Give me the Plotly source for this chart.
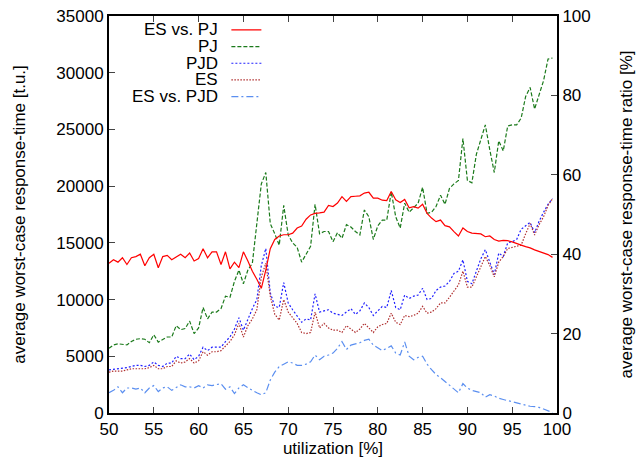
import numpy as np
import plotly.graph_objects as go

# utilization grid, 0.5 % steps
util = np.arange(50, 100, 0.5)

# average worst-case response-time [t.u.] (left axis)
pj = [5700, 6000, 6100, 6050, 6000, 6300, 6500, 6550, 6500, 6200,
      6900, 6250, 6450, 6700, 6700, 7700, 7350, 7450, 8100, 7000,
      7500, 9300, 8300, 8900, 8900, 9200, 10300, 10200, 11600, 12600,
      11400, 12600, 13200, 16500, 20200, 21200, 16700, 15800, 14800, 18300,
      15700, 15000, 14600, 13300, 14000, 14700, 18400, 15800, 16000, 16000,
      15100, 15900, 15400, 16600, 16400, 16000, 15700, 17900, 17300, 15300,
      16500, 17000, 17000, 19500, 17300, 16300, 18500, 17700, 18100, 18500,
      19900, 17600, 17700, 18200, 19200, 18400, 19800, 20200, 20500, 24200,
      20500, 20300, 22800, 24100, 25400, 23200, 21200, 24000, 23100, 25300,
      25400, 25400, 26000, 27900, 28700, 26800, 28000, 29300, 31200, 31300]

pjd = [3800, 3850, 3900, 3900, 4000, 4100, 4200, 4200, 4100, 4200,
       4500, 4200, 4100, 4400, 4400, 5000, 4800, 4800, 5200, 4700,
       5000, 5800, 5500, 5800, 5800, 5800, 6300, 6700, 7400, 8400,
       7300, 8300, 9200, 10000, 13000, 14500, 10600, 9400, 9300, 11500,
       9700, 9100, 8500, 8000, 8300, 8200, 10500, 8900, 9000, 9100,
       8800, 8700, 8600, 8900, 9200, 8700, 9000, 9700, 9300, 8600,
       9000, 9400, 9300, 10800, 9300, 9100, 10400, 10100, 10300, 10400,
       11000, 10000, 10100, 10800, 11100, 11200, 11600, 12300, 12500, 13500,
       11600, 11400, 12500, 13600, 14400, 13300, 12200, 14100, 13800, 15000,
       15100, 15300, 16200, 16500, 16800, 15900, 16900, 17700, 18400, 18900]

es = [3600, 3700, 3700, 3700, 3800, 3900, 3900, 3900, 3900, 4000,
      4200, 3900, 3900, 4100, 4100, 4600, 4400, 4500, 4800, 4400,
      4600, 5400, 5100, 5400, 5400, 5500, 5900, 6300, 6900, 7900,
      6700, 7700, 8300, 9100, 12000, 13200, 10300, 8700, 8200, 10000,
      8900, 8400, 7900, 7100, 7000, 7100, 8900, 7500, 7900, 7500,
      7300, 7300, 7100, 7700, 7400, 7100, 7400, 7900, 7500, 7100,
      7600, 7800, 7900, 8800, 8000, 7800, 8600, 8500, 8600, 8800,
      9400, 8800, 8900, 9200, 9700, 9700, 10200, 10800, 11300, 12500,
      11100, 11100, 12000, 13000, 13800, 13000, 12000, 13300, 13800, 14500,
      14600, 14700, 14800, 15800, 16700, 15700, 16600, 17300, 18300, 18900]

# average worst-case response-time ratio [%] (right axis)
es_vs_pj = [37.7, 38.6, 38.0, 39.1, 37.4, 39.1, 39.4, 40.0, 37.1, 39.1,
            40.0, 36.6, 39.4, 39.7, 38.6, 39.4, 40.0, 39.1, 40.3, 38.3,
            38.9, 41.4, 39.1, 40.6, 40.6, 37.4, 40.6, 36.3, 38.0, 36.6,
            40.6, 38.3, 35.7, 33.7, 31.4, 36.0, 41.4, 43.7, 44.6, 44.9,
            44.9, 45.3, 46.6, 47.1, 48.8, 49.9, 50.3, 50.4, 50.6, 52.3,
            52.0, 52.9, 54.5, 53.3, 54.5, 54.6, 54.7, 55.4, 55.6, 54.1,
            54.1, 53.6, 53.5, 55.8, 53.7, 53.0, 53.8, 51.7, 52.0, 51.6,
            52.6, 50.3, 49.1, 48.2, 48.6, 47.2, 46.9, 45.7, 44.6, 46.6,
            45.7, 45.3, 45.2, 45.1, 44.4, 44.6, 43.7, 43.3, 43.5, 43.4,
            43.1, 42.6, 42.3, 41.9, 41.6, 41.1, 40.7, 40.3, 39.9, 39.2]

es_vs_pjd = [5.1, 5.7, 6.6, 5.1, 6.3, 6.3, 6.0, 6.3, 5.1, 6.3,
             6.9, 5.4, 6.3, 6.6, 5.7, 6.3, 7.1, 6.6, 6.6, 6.3,
             6.9, 6.3, 7.1, 6.9, 7.1, 7.4, 6.0, 6.6, 4.9, 6.3,
             7.1, 6.3, 5.7, 5.1, 4.6, 5.1, 8.3, 10.3, 11.7, 12.3,
             12.9, 12.6, 12.0, 12.0, 12.3, 12.9, 14.6, 13.4, 14.3, 14.6,
             15.1, 16.3, 18.0, 16.0, 17.1, 17.4, 17.7, 18.3, 18.6, 17.1,
             16.3, 15.7, 16.3, 16.9, 15.1, 14.6, 17.9, 14.3, 13.4, 14.0,
             14.3, 12.3, 10.9, 9.7, 8.9, 8.0, 7.1, 6.0, 5.1, 7.4,
             6.3, 5.7, 5.4, 5.1, 4.0, 4.6, 4.3, 3.7, 3.4, 3.1,
             2.9, 2.6, 2.3, 2.0, 1.7, 1.6, 1.4, 1.0, 0.6, 0.1]

FONT = "Liberation Sans, Arial, sans-serif"

series = [
    ("ES vs. PJ", util, es_vs_pj, "y2", "#ff0000", "solid"),
    ("PJ", util, pj, "y", "#1b7a1b", "4px,2px"),
    ("PJD", util, pjd, "y", "#2020ff", "2px,2px"),
    ("ES", util, es, "y", "#b03030", "1.5px,1.5px"),
    ("ES vs. PJD", util, es_vs_pjd, "y2", "#5b8ff0", "7px,3px,2px,3px"),
]

# legend rows (paper y) - gnuplot style: text on the left, sample on the right
rows = [0.965, 0.923, 0.881, 0.839, 0.797]

fig = go.Figure()
for i, (name, x, y, ax, col, dash) in enumerate(series):
    lg = "legend" if i == 0 else "legend%d" % (i + 1)
    fig.add_trace(go.Scatter(x=x, y=y, yaxis=ax, mode="lines", name=" ",
                             legend=lg, showlegend=True,
                             line=dict(color=col, width=1.2, dash=dash)))
    fig.add_annotation(text=name, xref="paper", yref="paper", x=0.247, y=rows[i],
                       xanchor="right", yanchor="middle", showarrow=False,
                       font=dict(family=FONT, size=17, color="black"))

legend_style = dict(x=0.262, xanchor="left", yanchor="middle",
                    bgcolor="rgba(0,0,0,0)", font=dict(size=4),
                    itemwidth=30, visible=True)
fig.update_layout(
    showlegend=True,
    legend=dict(y=rows[0], **legend_style),
    legend2=dict(y=rows[1], **legend_style),
    legend3=dict(y=rows[2], **legend_style),
    legend4=dict(y=rows[3], **legend_style),
    legend5=dict(y=rows[4], **legend_style),
)

axis_font = dict(family=FONT, size=17, color="black")

# right axis title as an annotation (axis titles get pinned to the page edge)
fig.add_annotation(text="average worst-case response-time ratio [%]",
                   xref="paper", yref="paper", x=1.156, y=0.5,
                   xanchor="center", yanchor="middle", textangle=-90,
                   showarrow=False, font=axis_font)

common = dict(ticks="inside", ticklen=6, showline=True, linecolor="black",
              linewidth=2, showgrid=False, zeroline=False, tickfont=axis_font,
              automargin=False, ticklabeloverflow="allow")
# page body has an 8px margin, so the figure is 8px smaller than the window
fig.update_layout(
    width=636, height=457,
    margin=dict(l=101, r=87, t=8, b=52, autoexpand=False),
    paper_bgcolor="white", plot_bgcolor="white",
    font=axis_font,
    xaxis=dict(range=[50, 100], dtick=5, mirror="ticks", **common,
               title=dict(text="utilization [%]", font=axis_font, standoff=2)),
    yaxis=dict(range=[0, 35000], dtick=5000, tickformat="d", **common,
               title=dict(text="average worst-case response-time [t.u.]",
                          font=axis_font, standoff=26)),
    yaxis2=dict(range=[0, 100], dtick=20, overlaying="y", side="right", **common),
)

fig.write_html("out.html")
